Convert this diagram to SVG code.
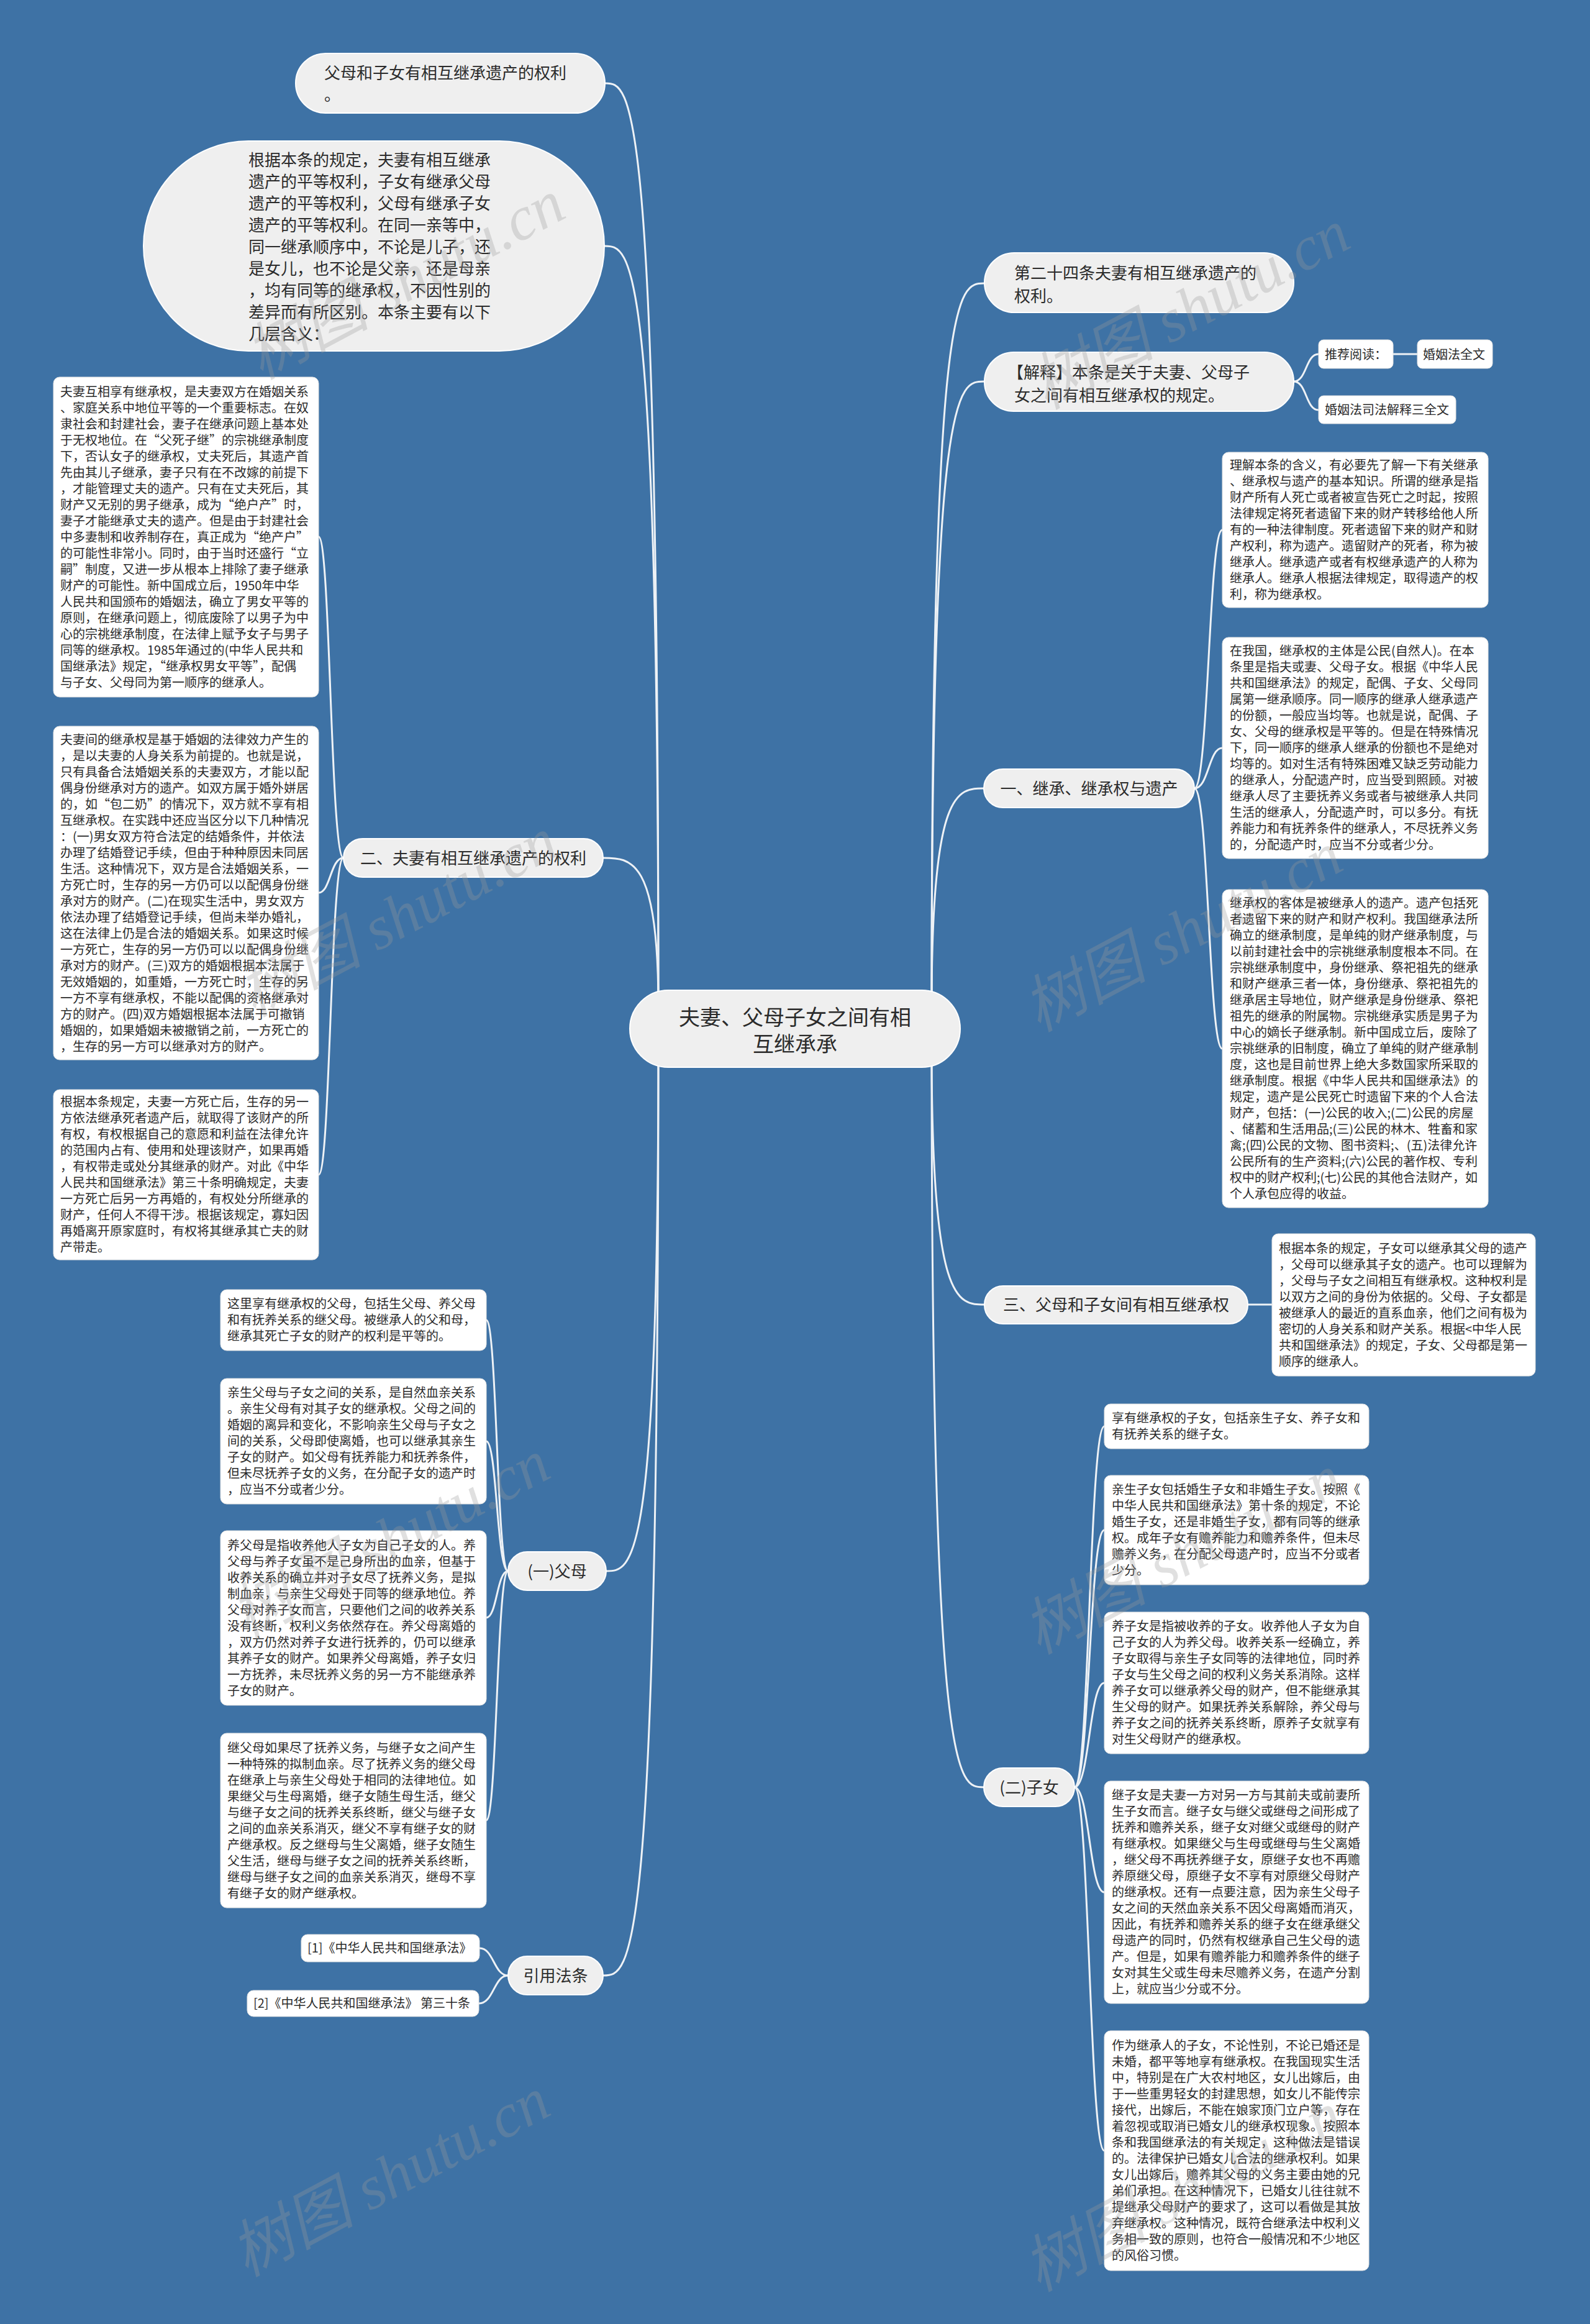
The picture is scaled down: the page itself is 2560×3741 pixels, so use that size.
<svg xmlns="http://www.w3.org/2000/svg" width="2560" height="3741" viewBox="0 0 2560 3741">
<style>
text{font-family:"Noto Sans CJK SC","Noto Sans",sans-serif;fill:#2b2b2b}
.main{fill:#efefef;stroke:#ffffff;stroke-width:2}
.leaf{fill:#ffffff;stroke:#e3e3e3;stroke-width:1}
.t26{font-size:26px}
.t34{font-size:34px}
.t20{font-size:20px}
.conn{fill:none;stroke:#eef2f6;stroke-width:3}
.wm{font-family:"Liberation Serif","Noto Sans CJK SC",serif;font-style:italic;font-size:100px;fill:#9a9a9a;opacity:0.3}
</style>
<rect x="0" y="0" width="2560" height="3741" fill="#3e72a5"/>
<g id="connectors">
<path class="conn" d="M1500 1620 C1500 456 1542 456 1585 456"/>
<path class="conn" d="M1500 1620 C1500 614 1542 614 1585 614"/>
<path class="conn" d="M1500 1620 C1500 1269 1542 1269 1584 1269"/>
<path class="conn" d="M1500 1690 C1500 2100 1542 2100 1585 2100"/>
<path class="conn" d="M1500 1690 C1500 2877 1542 2877 1584 2877"/>
<path class="conn" d="M1060 1620 C1060 134 1016 134 974 134"/>
<path class="conn" d="M1060 1620 C1060 396 1016 396 973 396"/>
<path class="conn" d="M1060 1620 C1060 1381 1016 1381 971 1381"/>
<path class="conn" d="M1060 1690 C1060 2529 1018 2529 976 2529"/>
<path class="conn" d="M1060 1690 C1060 3180 1016 3180 971 3180"/>
<path class="conn" d="M553 1381 C532 1381 532 864 513 864"/>
<path class="conn" d="M553 1381 C532 1381 532 1437 513 1437"/>
<path class="conn" d="M553 1381 C532 1381 532 1891 513 1891"/>
<path class="conn" d="M1923 1269 C1946 1269 1946 853 1968 853"/>
<path class="conn" d="M1923 1269 C1946 1269 1946 1204 1968 1204"/>
<path class="conn" d="M1923 1269 C1946 1269 1946 1688 1968 1688"/>
<path class="conn" d="M2009 2100 L2048 2100"/>
<path class="conn" d="M2083 614 C2104 614 2102 570 2123 570"/>
<path class="conn" d="M2083 614 C2104 614 2102 660 2123 660"/>
<path class="conn" d="M2243 570 L2282 570"/>
<path class="conn" d="M818 2529 C800 2529 800 2125 783 2125"/>
<path class="conn" d="M818 2529 C800 2529 800 2320 783 2320"/>
<path class="conn" d="M818 2529 C800 2529 800 2604 783 2604"/>
<path class="conn" d="M818 2529 C800 2529 800 2930 783 2930"/>
<path class="conn" d="M818 3180 C795 3180 795 3136 772 3136"/>
<path class="conn" d="M818 3180 C795 3180 795 3225 771 3225"/>
<path class="conn" d="M1730 2877 C1754 2877 1754 2296 1778 2296"/>
<path class="conn" d="M1730 2877 C1754 2877 1754 2463 1778 2463"/>
<path class="conn" d="M1730 2877 C1754 2877 1754 2709 1778 2709"/>
<path class="conn" d="M1730 2877 C1754 2877 1754 3046 1778 3046"/>
<path class="conn" d="M1730 2877 C1754 2877 1754 3462 1778 3462"/>
</g>
<g id="center">
<rect class="main" x="1014" y="1594" width="532" height="124" rx="62"/>
<text class="t34" text-anchor="middle"><tspan x="1280" y="1650">夫妻、父母子女之间有相</tspan><tspan x="1280" y="1693">互继承承</tspan></text>
</g>
<g id="node-a">
<rect class="main" x="476" y="86" width="498" height="96" rx="48"/>
<text class="t26"><tspan x="522" y="127">父母和子女有相互继承遗产的权利</tspan><tspan x="522" y="162">。</tspan></text>
</g>
<g id="node-b">
<rect class="main" x="231" y="227" width="742" height="338" rx="169"/>
<text class="t26"><tspan x="400" y="267">根据本条的规定，夫妻有相互继承</tspan><tspan x="400" dy="35">遗产的平等权利，子女有继承父母</tspan><tspan x="400" dy="35">遗产的平等权利，父母有继承子女</tspan><tspan x="400" dy="35">遗产的平等权利。在同一亲等中，</tspan><tspan x="400" dy="35">同一继承顺序中，不论是儿子，还</tspan><tspan x="400" dy="35">是女儿，也不论是父亲，还是母亲</tspan><tspan x="400" dy="35">，均有同等的继承权，不因性别的</tspan><tspan x="400" dy="35">差异而有所区别。本条主要有以下</tspan><tspan x="400" dy="35">几层含义：</tspan></text>
</g>
<g id="node-r1">
<rect class="main" x="1585" y="407" width="498" height="96" rx="48"/>
<text class="t26"><tspan x="1633" y="449">第二十四条夫妻有相互继承遗产的</tspan><tspan x="1633" y="486">权利。</tspan></text>
</g>
<g id="node-r2">
<rect class="main" x="1585" y="567" width="498" height="95" rx="47"/>
<text class="t26"><tspan x="1622" y="609">【解释】本条是关于夫妻、父母子</tspan><tspan x="1633" y="646">女之间有相互继承权的规定。</tspan></text>
</g>
<g id="node-read">
<rect class="leaf" x="2123" y="547" width="120" height="46" rx="8"/>
<text class="t20" x="2133" y="578">推荐阅读：</text>
</g>
<g id="node-read1">
<rect class="leaf" x="2282" y="547" width="121" height="46" rx="8"/>
<text class="t20" x="2291" y="578">婚姻法全文</text>
</g>
<g id="node-read2">
<rect class="leaf" x="2123" y="637" width="221" height="45" rx="8"/>
<text class="t20" x="2133" y="667">婚姻法司法解释三全文</text>
</g>
<g id="node-r3">
<rect class="main" x="1584" y="1238" width="339" height="62" rx="31"/>
<text class="t26" text-anchor="middle" x="1753.5" y="1279">一、继承、继承权与遗产</text>
</g>
<g id="leaf-r3a">
<rect class="leaf" x="1968" y="728" width="428" height="250" rx="10"/>
<text class="t20"><tspan x="1980" y="756">理解本条的含义，有必要先了解一下有关继承</tspan><tspan x="1980" dy="26">、继承权与遗产的基本知识。所谓的继承是指</tspan><tspan x="1980" dy="26">财产所有人死亡或者被宣告死亡之时起，按照</tspan><tspan x="1980" dy="26">法律规定将死者遗留下来的财产转移给他人所</tspan><tspan x="1980" dy="26">有的一种法律制度。死者遗留下来的财产和财</tspan><tspan x="1980" dy="26">产权利，称为遗产。遗留财产的死者，称为被</tspan><tspan x="1980" dy="26">继承人。继承遗产或者有权继承遗产的人称为</tspan><tspan x="1980" dy="26">继承人。继承人根据法律规定，取得遗产的权</tspan><tspan x="1980" dy="26">利，称为继承权。</tspan></text>
</g>
<g id="leaf-r3b">
<rect class="leaf" x="1968" y="1026" width="428" height="356" rx="10"/>
<text class="t20"><tspan x="1980" y="1055">在我国，继承权的主体是公民(自然人)。在本</tspan><tspan x="1980" dy="26">条里是指夫或妻、父母子女。根据《中华人民</tspan><tspan x="1980" dy="26">共和国继承法》的规定，配偶、子女、父母同</tspan><tspan x="1980" dy="26">属第一继承顺序。同一顺序的继承人继承遗产</tspan><tspan x="1980" dy="26">的份额，一般应当均等。也就是说，配偶、子</tspan><tspan x="1980" dy="26">女、父母的继承权是平等的。但是在特殊情况</tspan><tspan x="1980" dy="26">下，同一顺序的继承人继承的份额也不是绝对</tspan><tspan x="1980" dy="26">均等的。如对生活有特殊困难又缺乏劳动能力</tspan><tspan x="1980" dy="26">的继承人，分配遗产时，应当受到照顾。对被</tspan><tspan x="1980" dy="26">继承人尽了主要抚养义务或者与被继承人共同</tspan><tspan x="1980" dy="26">生活的继承人，分配遗产时，可以多分。有抚</tspan><tspan x="1980" dy="26">养能力和有抚养条件的继承人，不尽抚养义务</tspan><tspan x="1980" dy="26">的，分配遗产时，应当不分或者少分。</tspan></text>
</g>
<g id="leaf-r3c">
<rect class="leaf" x="1968" y="1432" width="428" height="512" rx="10"/>
<text class="t20"><tspan x="1980" y="1461">继承权的客体是被继承人的遗产。遗产包括死</tspan><tspan x="1980" dy="26">者遗留下来的财产和财产权利。我国继承法所</tspan><tspan x="1980" dy="26">确立的继承制度，是单纯的财产继承制度，与</tspan><tspan x="1980" dy="26">以前封建社会中的宗祧继承制度根本不同。在</tspan><tspan x="1980" dy="26">宗祧继承制度中，身份继承、祭祀祖先的继承</tspan><tspan x="1980" dy="26">和财产继承三者一体，身份继承、祭祀祖先的</tspan><tspan x="1980" dy="26">继承居主导地位，财产继承是身份继承、祭祀</tspan><tspan x="1980" dy="26">祖先的继承的附属物。宗祧继承实质是男子为</tspan><tspan x="1980" dy="26">中心的嫡长子继承制。新中国成立后，废除了</tspan><tspan x="1980" dy="26">宗祧继承的旧制度，确立了单纯的财产继承制</tspan><tspan x="1980" dy="26">度，这也是目前世界上绝大多数国家所采取的</tspan><tspan x="1980" dy="26">继承制度。根据《中华人民共和国继承法》的</tspan><tspan x="1980" dy="26">规定，遗产是公民死亡时遗留下来的个人合法</tspan><tspan x="1980" dy="26">财产，包括：(一)公民的收入;(二)公民的房屋</tspan><tspan x="1980" dy="26">、储蓄和生活用品;(三)公民的林木、牲畜和家</tspan><tspan x="1980" dy="26">禽;(四)公民的文物、图书资料;、(五)法律允许</tspan><tspan x="1980" dy="26">公民所有的生产资料;(六)公民的著作权、专利</tspan><tspan x="1980" dy="26">权中的财产权利;(七)公民的其他合法财产，如</tspan><tspan x="1980" dy="26">个人承包应得的收益。</tspan></text>
</g>
<g id="node-r4">
<rect class="main" x="1585" y="2070" width="424" height="61" rx="30"/>
<text class="t26" text-anchor="middle" x="1797" y="2110">三、父母和子女间有相互继承权</text>
</g>
<g id="leaf-r4">
<rect class="leaf" x="2048" y="1986" width="424" height="229" rx="10"/>
<text class="t20"><tspan x="2059" y="2017">根据本条的规定，子女可以继承其父母的遗产</tspan><tspan x="2059" dy="26">，父母可以继承其子女的遗产。也可以理解为</tspan><tspan x="2059" dy="26">，父母与子女之间相互有继承权。这种权利是</tspan><tspan x="2059" dy="26">以双方之间的身份为依据的。父母、子女都是</tspan><tspan x="2059" dy="26">被继承人的最近的直系血亲，他们之间有极为</tspan><tspan x="2059" dy="26">密切的人身关系和财产关系。根据&lt;中华人民</tspan><tspan x="2059" dy="26">共和国继承法》的规定，子女、父母都是第一</tspan><tspan x="2059" dy="26">顺序的继承人。</tspan></text>
</g>
<g id="node-l2">
<rect class="main" x="553" y="1350" width="418" height="62" rx="31"/>
<text class="t26" text-anchor="middle" x="762" y="1391">二、夫妻有相互继承遗产的权利</text>
</g>
<g id="leaf-l1">
<rect class="leaf" x="86" y="607" width="427" height="515" rx="10"/>
<text class="t20"><tspan x="97" y="638">夫妻互相享有继承权，是夫妻双方在婚姻关系</tspan><tspan x="97" dy="26">、家庭关系中地位平等的一个重要标志。在奴</tspan><tspan x="97" dy="26">隶社会和封建社会，妻子在继承问题上基本处</tspan><tspan x="97" dy="26">于无权地位。在“父死子继”的宗祧继承制度</tspan><tspan x="97" dy="26">下，否认女子的继承权，丈夫死后，其遗产首</tspan><tspan x="97" dy="26">先由其儿子继承，妻子只有在不改嫁的前提下</tspan><tspan x="97" dy="26">，才能管理丈夫的遗产。只有在丈夫死后，其</tspan><tspan x="97" dy="26">财产又无别的男子继承，成为“绝户产”时，</tspan><tspan x="97" dy="26">妻子才能继承丈夫的遗产。但是由于封建社会</tspan><tspan x="97" dy="26">中多妻制和收养制存在，真正成为“绝产户”</tspan><tspan x="97" dy="26">的可能性非常小。同时，由于当时还盛行“立</tspan><tspan x="97" dy="26">嗣”制度，又进一步从根本上排除了妻子继承</tspan><tspan x="97" dy="26">财产的可能性。新中国成立后，1950年中华</tspan><tspan x="97" dy="26">人民共和国颁布的婚姻法，确立了男女平等的</tspan><tspan x="97" dy="26">原则，在继承问题上，彻底废除了以男子为中</tspan><tspan x="97" dy="26">心的宗祧继承制度，在法律上赋予女子与男子</tspan><tspan x="97" dy="26">同等的继承权。1985年通过的(中华人民共和</tspan><tspan x="97" dy="26">国继承法》规定，“继承权男女平等”，配偶</tspan><tspan x="97" dy="26">与子女、父母同为第一顺序的继承人。</tspan></text>
</g>
<g id="leaf-l2">
<rect class="leaf" x="86" y="1169" width="427" height="537" rx="10"/>
<text class="t20"><tspan x="97" y="1198">夫妻间的继承权是基于婚姻的法律效力产生的</tspan><tspan x="97" dy="26">，是以夫妻的人身关系为前提的。也就是说，</tspan><tspan x="97" dy="26">只有具备合法婚姻关系的夫妻双方，才能以配</tspan><tspan x="97" dy="26">偶身份继承对方的遗产。如双方属于婚外姘居</tspan><tspan x="97" dy="26">的，如“包二奶”的情况下，双方就不享有相</tspan><tspan x="97" dy="26">互继承权。在实践中还应当区分以下几种情况</tspan><tspan x="97" dy="26">：(一)男女双方符合法定的结婚条件，并依法</tspan><tspan x="97" dy="26">办理了结婚登记手续，但由于种种原因未同居</tspan><tspan x="97" dy="26">生活。这种情况下，双方是合法婚姻关系，一</tspan><tspan x="97" dy="26">方死亡时，生存的另一方仍可以以配偶身份继</tspan><tspan x="97" dy="26">承对方的财产。(二)在现实生活中，男女双方</tspan><tspan x="97" dy="26">依法办理了结婚登记手续，但尚未举办婚礼，</tspan><tspan x="97" dy="26">这在法律上仍是合法的婚姻关系。如果这时候</tspan><tspan x="97" dy="26">一方死亡，生存的另一方仍可以以配偶身份继</tspan><tspan x="97" dy="26">承对方的财产。(三)双方的婚姻根据本法属于</tspan><tspan x="97" dy="26">无效婚姻的，如重婚，一方死亡时，生存的另</tspan><tspan x="97" dy="26">一方不享有继承权，不能以配偶的资格继承对</tspan><tspan x="97" dy="26">方的财产。(四)双方婚姻根据本法属于可撤销</tspan><tspan x="97" dy="26">婚姻的，如果婚姻未被撤销之前，一方死亡的</tspan><tspan x="97" dy="26">，生存的另一方可以继承对方的财产。</tspan></text>
</g>
<g id="leaf-l3">
<rect class="leaf" x="86" y="1754" width="427" height="274" rx="10"/>
<text class="t20"><tspan x="97" y="1781">根据本条规定，夫妻一方死亡后，生存的另一</tspan><tspan x="97" dy="26">方依法继承死者遗产后，就取得了该财产的所</tspan><tspan x="97" dy="26">有权，有权根据自己的意愿和利益在法律允许</tspan><tspan x="97" dy="26">的范围内占有、使用和处理该财产，如果再婚</tspan><tspan x="97" dy="26">，有权带走或处分其继承的财产。对此《中华</tspan><tspan x="97" dy="26">人民共和国继承法》第三十条明确规定，夫妻</tspan><tspan x="97" dy="26">一方死亡后另一方再婚的，有权处分所继承的</tspan><tspan x="97" dy="26">财产，任何人不得干涉。根据该规定，寡妇因</tspan><tspan x="97" dy="26">再婚离开原家庭时，有权将其继承其亡夫的财</tspan><tspan x="97" dy="26">产带走。</tspan></text>
</g>
<g id="node-parents">
<rect class="main" x="818" y="2498" width="158" height="62" rx="31"/>
<text class="t26" text-anchor="middle" x="897" y="2539">(一)父母</text>
</g>
<g id="leaf-p1">
<rect class="leaf" x="355" y="2076" width="428" height="98" rx="10"/>
<text class="t20"><tspan x="366" y="2106">这里享有继承权的父母，包括生父母、养父母</tspan><tspan x="366" dy="26">和有抚养关系的继父母。被继承人的父和母，</tspan><tspan x="366" dy="26">继承其死亡子女的财产的权利是平等的。</tspan></text>
</g>
<g id="leaf-p2">
<rect class="leaf" x="355" y="2219" width="428" height="202" rx="10"/>
<text class="t20"><tspan x="366" y="2249">亲生父母与子女之间的关系，是自然血亲关系</tspan><tspan x="366" dy="26">。亲生父母有对其子女的继承权。父母之间的</tspan><tspan x="366" dy="26">婚姻的离异和变化，不影响亲生父母与子女之</tspan><tspan x="366" dy="26">间的关系，父母即使离婚，也可以继承其亲生</tspan><tspan x="366" dy="26">子女的财产。如父母有抚养能力和抚养条件，</tspan><tspan x="366" dy="26">但未尽抚养子女的义务，在分配子女的遗产时</tspan><tspan x="366" dy="26">，应当不分或者少分。</tspan></text>
</g>
<g id="leaf-p3">
<rect class="leaf" x="355" y="2464" width="428" height="281" rx="10"/>
<text class="t20"><tspan x="366" y="2495">养父母是指收养他人子女为自己子女的人。养</tspan><tspan x="366" dy="26">父母与养子女虽不是己身所出的血亲，但基于</tspan><tspan x="366" dy="26">收养关系的确立并对子女尽了抚养义务，是拟</tspan><tspan x="366" dy="26">制血亲，与亲生父母处于同等的继承地位。养</tspan><tspan x="366" dy="26">父母对养子女而言，只要他们之间的收养关系</tspan><tspan x="366" dy="26">没有终断，权利义务依然存在。养父母离婚的</tspan><tspan x="366" dy="26">，双方仍然对养子女进行抚养的，仍可以继承</tspan><tspan x="366" dy="26">其养子女的财产。如果养父母离婚，养子女归</tspan><tspan x="366" dy="26">一方抚养，未尽抚养义务的另一方不能继承养</tspan><tspan x="366" dy="26">子女的财产。</tspan></text>
</g>
<g id="leaf-p4">
<rect class="leaf" x="355" y="2790" width="428" height="281" rx="10"/>
<text class="t20"><tspan x="366" y="2821">继父母如果尽了抚养义务，与继子女之间产生</tspan><tspan x="366" dy="26">一种特殊的拟制血亲。尽了抚养义务的继父母</tspan><tspan x="366" dy="26">在继承上与亲生父母处于相同的法律地位。如</tspan><tspan x="366" dy="26">果继父与生母离婚，继子女随生母生活，继父</tspan><tspan x="366" dy="26">与继子女之间的抚养关系终断，继父与继子女</tspan><tspan x="366" dy="26">之间的血亲关系消灭，继父不享有继子女的财</tspan><tspan x="366" dy="26">产继承权。反之继母与生父离婚，继子女随生</tspan><tspan x="366" dy="26">父生活，继母与继子女之间的抚养关系终断，</tspan><tspan x="366" dy="26">继母与继子女之间的血亲关系消灭，继母不享</tspan><tspan x="366" dy="26">有继子女的财产继承权。</tspan></text>
</g>
<g id="node-cite">
<rect class="main" x="818" y="3149" width="153" height="62" rx="31"/>
<text class="t26" text-anchor="middle" x="894.5" y="3190">引用法条</text>
</g>
<g id="leaf-cite1">
<rect class="leaf" x="485" y="3114" width="287" height="44" rx="10"/>
<text class="t20" x="495" y="3143">[1]《中华人民共和国继承法》</text>
</g>
<g id="leaf-cite2">
<rect class="leaf" x="398" y="3204" width="373" height="42" rx="10"/>
<text class="t20" x="408" y="3232">[2]《中华人民共和国继承法》 第三十条</text>
</g>
<g id="node-children">
<rect class="main" x="1584" y="2846" width="146" height="62" rx="31"/>
<text class="t26" text-anchor="middle" x="1657" y="2887">(二)子女</text>
</g>
<g id="leaf-c1">
<rect class="leaf" x="1778" y="2260" width="426" height="72" rx="10"/>
<text class="t20"><tspan x="1790" y="2290">享有继承权的子女，包括亲生子女、养子女和</tspan><tspan x="1790" dy="26">有抚养关系的继子女。</tspan></text>
</g>
<g id="leaf-c2">
<rect class="leaf" x="1778" y="2375" width="426" height="176" rx="10"/>
<text class="t20"><tspan x="1790" y="2405">亲生子女包括婚生子女和非婚生子女。按照《</tspan><tspan x="1790" dy="26">中华人民共和国继承法》第十条的规定，不论</tspan><tspan x="1790" dy="26">婚生子女，还是非婚生子女，都有同等的继承</tspan><tspan x="1790" dy="26">权。成年子女有赡养能力和赡养条件，但未尽</tspan><tspan x="1790" dy="26">赡养义务，在分配父母遗产时，应当不分或者</tspan><tspan x="1790" dy="26">少分。</tspan></text>
</g>
<g id="leaf-c3">
<rect class="leaf" x="1778" y="2595" width="426" height="228" rx="10"/>
<text class="t20"><tspan x="1790" y="2625">养子女是指被收养的子女。收养他人子女为自</tspan><tspan x="1790" dy="26">己子女的人为养父母。收养关系一经确立，养</tspan><tspan x="1790" dy="26">子女取得与亲生子女同等的法律地位，同时养</tspan><tspan x="1790" dy="26">子女与生父母之间的权利义务关系消除。这样</tspan><tspan x="1790" dy="26">养子女可以继承养父母的财产，但不能继承其</tspan><tspan x="1790" dy="26">生父母的财产。如果抚养关系解除，养父母与</tspan><tspan x="1790" dy="26">养子女之间的抚养关系终断，原养子女就享有</tspan><tspan x="1790" dy="26">对生父母财产的继承权。</tspan></text>
</g>
<g id="leaf-c4">
<rect class="leaf" x="1778" y="2867" width="426" height="358" rx="10"/>
<text class="t20"><tspan x="1790" y="2897">继子女是夫妻一方对另一方与其前夫或前妻所</tspan><tspan x="1790" dy="26">生子女而言。继子女与继父或继母之间形成了</tspan><tspan x="1790" dy="26">抚养和赡养关系，继子女对继父或继母的财产</tspan><tspan x="1790" dy="26">有继承权。如果继父与生母或继母与生父离婚</tspan><tspan x="1790" dy="26">，继父母不再抚养继子女，原继子女也不再赡</tspan><tspan x="1790" dy="26">养原继父母，原继子女不享有对原继父母财产</tspan><tspan x="1790" dy="26">的继承权。还有一点要注意，因为亲生父母子</tspan><tspan x="1790" dy="26">女之间的天然血亲关系不因父母离婚而消灭，</tspan><tspan x="1790" dy="26">因此，有抚养和赡养关系的继子女在继承继父</tspan><tspan x="1790" dy="26">母遗产的同时，仍然有权继承自己生父母的遗</tspan><tspan x="1790" dy="26">产。但是，如果有赡养能力和赡养条件的继子</tspan><tspan x="1790" dy="26">女对其生父或生母未尽赡养义务，在遗产分割</tspan><tspan x="1790" dy="26">上，就应当少分或不分。</tspan></text>
</g>
<g id="leaf-c5">
<rect class="leaf" x="1778" y="3269" width="426" height="386" rx="10"/>
<text class="t20"><tspan x="1790" y="3300">作为继承人的子女，不论性别，不论已婚还是</tspan><tspan x="1790" dy="26">未婚，都平等地享有继承权。在我国现实生活</tspan><tspan x="1790" dy="26">中，特别是在广大农村地区，女儿出嫁后，由</tspan><tspan x="1790" dy="26">于一些重男轻女的封建思想，如女儿不能传宗</tspan><tspan x="1790" dy="26">接代，出嫁后，不能在娘家顶门立户等，存在</tspan><tspan x="1790" dy="26">着忽视或取消已婚女儿的继承权现象。按照本</tspan><tspan x="1790" dy="26">条和我国继承法的有关规定，这种做法是错误</tspan><tspan x="1790" dy="26">的。法律保护已婚女儿合法的继承权利。如果</tspan><tspan x="1790" dy="26">女儿出嫁后，赡养其父母的义务主要由她的兄</tspan><tspan x="1790" dy="26">弟们承担。在这种情况下，已婚女儿往往就不</tspan><tspan x="1790" dy="26">提继承父母财产的要求了，这可以看做是其放</tspan><tspan x="1790" dy="26">弃继承权。这种情况，既符合继承法中权利义</tspan><tspan x="1790" dy="26">务相一致的原则，也符合一般情况和不少地区</tspan><tspan x="1790" dy="26">的风俗习惯。</tspan></text>
</g>
<g id="watermarks">
<text class="wm" text-anchor="middle" transform="translate(668 480) rotate(-28)">树图 shutu.cn</text>
<text class="wm" text-anchor="middle" transform="translate(1932 528) rotate(-28)">树图 shutu.cn</text>
<text class="wm" text-anchor="middle" transform="translate(656 1506) rotate(-28)">树图 shutu.cn</text>
<text class="wm" text-anchor="middle" transform="translate(1920 1530) rotate(-28)">树图 shutu.cn</text>
<text class="wm" text-anchor="middle" transform="translate(644 2508) rotate(-28)">树图 shutu.cn</text>
<text class="wm" text-anchor="middle" transform="translate(1920 2532) rotate(-28)">树图 shutu.cn</text>
<text class="wm" text-anchor="middle" transform="translate(644 3534) rotate(-28)">树图 shutu.cn</text>
<text class="wm" text-anchor="middle" transform="translate(1920 3558) rotate(-28)">树图 shutu.cn</text>
</g>
</svg>
